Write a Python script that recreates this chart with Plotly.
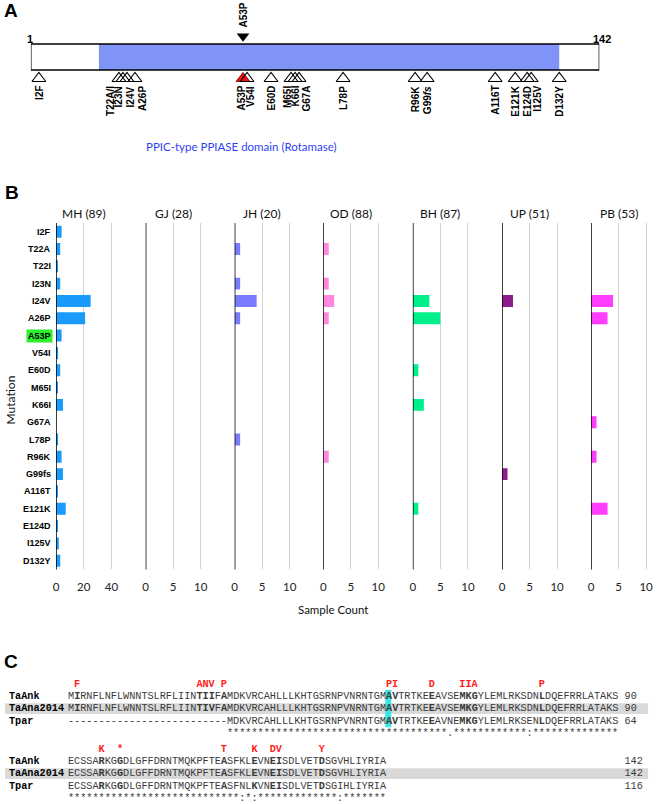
import re
import plotly.graph_objects as go

FIG_W, FIG_H = 660, 804

# ---------------- data ----------------
# Panel A: protein schematic
protein_length = 142
domain_start = 17
domain_end = 132
domain_name = "PPIC-type PPIASE domain (Rotamase)"
site_labels = ["I2F", "T22A/I", "I23N", "I24V", "A26P", "A53P", "V54I", "E60D",
               "M65I", "K66I", "G67A", "L78P", "R96K", "G99<i>fs</i>", "A116T",
               "E121K", "E124D", "I125V", "D132Y"]
site_positions = [2, 22, 23, 24, 26, 53, 54, 60, 65, 66, 67, 78, 96, 99, 116,
                  121, 124, 125, 132]
highlight_mutation = "A53P"
highlight_position = 53

# Panel B: sample counts per mutation and population
mutations = ["I2F", "T22A", "T22I", "I23N", "I24V", "A26P", "A53P", "V54I", "E60D",
             "M65I", "K66I", "G67A", "L78P", "R96K", "G99fs", "A116T", "E121K",
             "E124D", "I125V", "D132Y"]
populations = ["MH", "GJ", "JH", "OD", "BH", "UP", "PB"]
population_sizes = [89, 28, 20, 88, 87, 51, 53]
counts_MH = [4, 3, 1, 3, 25, 21, 4, 1, 3, 1, 5, 0, 1, 4, 5, 1, 7, 1, 2, 3]
counts_GJ = [0, 0, 0, 0, 0, 0, 0, 0, 0, 0, 0, 0, 0, 0, 0, 0, 0, 0, 0, 0]
counts_JH = [0, 1, 0, 1, 4, 1, 0, 0, 0, 0, 0, 0, 1, 0, 0, 0, 0, 0, 0, 0]
counts_OD = [0, 1, 0, 1, 2, 1, 0, 0, 0, 0, 0, 0, 0, 1, 0, 0, 0, 0, 0, 0]
counts_BH = [0, 0, 0, 0, 3, 5, 0, 0, 1, 0, 2, 0, 0, 0, 0, 0, 1, 0, 0, 0]
counts_UP = [0, 0, 0, 0, 2, 0, 0, 0, 0, 0, 0, 0, 0, 0, 1, 0, 0, 0, 0, 0]
counts_PB = [0, 0, 0, 0, 4, 3, 0, 0, 0, 0, 0, 1, 0, 1, 0, 0, 3, 0, 0, 0]
ticks_MH = [0, 20, 40]
ticks_other = [0, 5, 10]

# Panel C: alignment
seq_names = ["TaAnk", "TaAna2014", "Tpar"]
seq_block1 = [
    "MIRNFLNFLWNNTSLRFLIINTIIFAMDKVRCAHLLLKHTGSRNPVNRNTGMAVTRTKEEAVSEMKGYLEMLRKSDNLDQEFRRLATAKS",
    "MIRNFLNFLWNNTSLRFLIINTIVFAMDKVRCAHLLLKHTGSRNPVNRNTGMAVTRTKEEAVSEMKGYLEMLRKSDNLDQEFRRLATAKS",
    "--------------------------MDKVRCAHLLLKHTGSRNPVNRNTGMAVTRTKEEAVNEMKGYLEMLRKSENLDQEFRRLATAKS",
]
seq_block2 = [
    "ECSSARKGGDLGFFDRNTMQKPFTEASFKLEVNEISDLVETDSGVHLIYRIA",
    "ECSSARKGGDLGFFDRNTMQKPFTEASFKLEVNEISDLVETDSGVHLIYRIA",
    "ECSSARKGGDLGFFDRNTMQKPFTEASFNLKVNEISDLVETDSGIHLIYRIA",
]
seq_end1 = [90, 90, 64]
seq_end2 = [142, 142, 116]
cons_block1 = " " * 26 + "*" * 36 + "." + "*" * 12 + ":" + "*" * 14
cons_block2 = "*" * 28 + ":*:" + "*" * 13 + ":" + "*" * 7

# ---------------- styling ----------------
pop_colors = ["#1a9bfc", "#1a9bfc", "#7b7bff", "#ff88dc", "#00ef8a", "#8c1c8c", "#ff3dff"]
pop_x0 = [53.3, 143.3, 232.7, 321.7, 411.7, 501.3, 590.7]   # px of zero line
px_per_unit = [1.39, 5.53, 5.53, 5.53, 5.53, 5.53, 5.53]
panel_w = 66.0

SANS = "Lato"
BOLD_SANS = "Liberation Sans"
MONO = "Liberation Mono"
MONO_SIZE = 10.2
CHAR_W = MONO_SIZE * 0.6


def px(x):
    return x / FIG_W


def py(y):
    return 1 - y / FIG_H


fig = go.Figure()
shapes = []
ann = []


def add_ann(**kw):
    kw.setdefault("showarrow", False)
    kw.setdefault("xanchor", "center")
    kw.setdefault("yanchor", "middle")
    ann.append(kw)


# ---------------- Panel A ----------------
bar_top, bar_bot = 44, 70
shapes.append(dict(type="rect", xref="x8", yref="y8", x0=0, x1=protein_length,
                   y0=bar_top, y1=bar_bot, fillcolor="white", line=dict(width=0), layer="below"))
shapes.append(dict(type="rect", xref="x8", yref="y8", x0=domain_start, x1=domain_end,
                   y0=bar_top, y1=bar_bot, fillcolor="#8094f8", line=dict(width=0), layer="below"))
shapes.append(dict(type="rect", xref="x8", yref="y8", x0=0, x1=protein_length,
                   y0=bar_top, y1=bar_bot, fillcolor="rgba(0,0,0,0)",
                   line=dict(color="black", width=1.3), layer="above"))

tri_size = 12
tri_center = bar_bot + 0.7071 * tri_size
hl_idx = site_labels.index(highlight_mutation)
fig.add_trace(go.Scatter(
    x=[site_positions[hl_idx]], y=[tri_center], mode="markers", xaxis="x8", yaxis="y8",
    marker=dict(symbol="triangle-up", size=tri_size, color="#f01010",
                line=dict(color="#600000", width=0.8)),
    cliponaxis=False, hoverinfo="skip", showlegend=False))
fig.add_trace(go.Scatter(
    x=[p for i, p in enumerate(site_positions) if i != hl_idx],
    y=[tri_center] * (len(site_positions) - 1), mode="markers", xaxis="x8", yaxis="y8",
    marker=dict(symbol="triangle-up-open", size=tri_size, color="black",
                line=dict(color="black", width=1.1)),
    cliponaxis=False, hoverinfo="skip", showlegend=False))
down_size = 11
fig.add_trace(go.Scatter(
    x=[highlight_position], y=[bar_top - 0.7071 * down_size], mode="markers",
    xaxis="x8", yaxis="y8",
    marker=dict(symbol="triangle-down", size=down_size, color="black"),
    cliponaxis=False, hoverinfo="skip", showlegend=False))

label_nudge = {"T22A/I": -9, "I23N": -4, "I24V": 4, "A26P": 7.5, "A53P": -2, "V54I": 3.5,
               "M65I": -4, "G67A": 6.5, "I125V": 5.5}
for lab, pos in zip(site_labels, site_positions):
    add_ann(x=pos, y=84, xref="x8", yref="y8", text=lab, textangle=-90,
            yanchor="top", xshift=label_nudge.get(lab, 0),
            font=dict(family=BOLD_SANS, size=10, color="black", weight="bold"))
add_ann(x=highlight_position, y=30, xref="x8", yref="y8", text=highlight_mutation,
        textangle=-90, yanchor="bottom",
        font=dict(family=BOLD_SANS, size=10, color="black", weight="bold"))
add_ann(x=0, y=39, xref="x8", yref="y8", text="1", xshift=-1,
        font=dict(family=BOLD_SANS, size=11, color="black", weight="bold"))
add_ann(x=protein_length, y=39, xref="x8", yref="y8", text=str(protein_length), xshift=3,
        font=dict(family=BOLD_SANS, size=11, color="black", weight="bold"))
add_ann(x=px(240), y=py(146), xref="paper", yref="paper", text=domain_name,
        font=dict(family=SANS, size=11.5, color="#2f3ff2"))

# ---------------- Panel B ----------------
all_counts = [counts_MH, counts_GJ, counts_JH, counts_OD, counts_BH, counts_UP, counts_PB]
grid_top, grid_bot = 223, 569.4
layout_axes = {}
for k, (name, n, counts) in enumerate(zip(populations, population_sizes, all_counts)):
    xname = "x" if k == 0 else f"x{k + 1}"
    axkey = "xaxis" if k == 0 else f"xaxis{k + 1}"
    fig.add_trace(go.Bar(x=counts, y=mutations, orientation="h", xaxis=xname, yaxis="y",
                         marker=dict(color=pop_colors[k], line=dict(width=0)), width=0.69,
                         hoverinfo="skip", showlegend=False))
    x0 = pop_x0[k]
    layout_axes[axkey] = dict(
        domain=[px(x0), px(x0 + panel_w)], range=[0, panel_w / px_per_unit[k]],
        anchor="y", tickmode="array", tickvals=ticks_MH if k == 0 else ticks_other,
        showgrid=True, gridcolor="#d3d3d3", gridwidth=1.3, zeroline=False, showline=False,
        ticks="outside", ticklen=7, tickcolor="rgba(0,0,0,0)",
        tickfont=dict(family=SANS, size=11.5, color="#222"), fixedrange=True)
    shapes.append(dict(type="line", xref=xname, yref="y domain", x0=0, x1=0, y0=0, y1=1,
                       line=dict(color="black", width=1.5), layer="above"))
    add_ann(x=px(x0 + 5 * 5.53), y=py(213), xref="paper", yref="paper",
            text=f"{name} ({n})", font=dict(family=SANS, size=12, color="#111"))

for m in mutations:
    hl = (m == highlight_mutation)
    add_ann(x=px(50.3), y=m, xref="paper", yref="y", text=m, xanchor="right",
            bgcolor="#2cf02c" if hl else "rgba(0,0,0,0)",
            font=dict(family=BOLD_SANS, size=9, color="black", weight="bold"))

add_ann(x=px(8.5), y=py(400), xref="paper", yref="paper", text="Mutation",
        textangle=-90, font=dict(family=SANS, size=12, color="#111"))
add_ann(x=px(332), y=py(609), xref="paper", yref="paper", text="Sample Count",
        font=dict(family=SANS, size=11.5, color="#111"))

# ---------------- Panel C ----------------
NB = "\u00a0"
seq_x0 = 65.7
line_step = 12.65
block_rows = [696, 761]

# mutated residue per alignment column (first listed wins)
red_map = {}
for m in mutations:
    mm = re.match(r"([A-Z])(\d+)(.+)", m)
    pos, new = int(mm.group(2)), mm.group(3)
    if pos not in red_map:
        red_map[pos] = "*" if new == "fs" else new[0]


def fmt_seq(seq, start_col):
    out = []
    for i, ch in enumerate(seq):
        col = start_col + i
        if col in site_positions and ch != "-":
            out.append(f"<b>{ch}</b>")
        else:
            out.append(ch)
    return "".join(out)


mono_kw = dict(xref="paper", yref="paper", xanchor="left", borderpad=0, borderwidth=0)
blocks = [(seq_block1, seq_end1, cons_block1, 1), (seq_block2, seq_end2, cons_block2, 91)]
for b, (seqs, ends, cons, start_col) in enumerate(blocks):
    y0 = block_rows[b]
    width_cols = len(seq_block1[0])
    red = "".join(red_map.get(start_col + i, NB) for i in range(len(seqs[0])))
    add_ann(x=px(seq_x0), y=py(y0 - 11.5), text=red, **mono_kw,
            font=dict(family=MONO, size=MONO_SIZE, color="#ff1e1e", weight="bold"))
    yb = y0 + line_step
    shapes.append(dict(type="rect", xref="paper", yref="paper", x0=px(2), x1=px(648),
                       y0=py(yb + 5.3), y1=py(yb - 5.3), fillcolor="#d9d9d9",
                       line=dict(width=0), layer="below"))
    for r, (nm, seq, end) in enumerate(zip(seq_names, seqs, ends)):
        yy = y0 + r * line_step
        add_ann(x=px(6), y=py(yy), text=nm, **mono_kw,
                font=dict(family=MONO, size=MONO_SIZE, color="black", weight="bold"))
        txt = fmt_seq(seq, start_col) + NB * (width_cols - len(seq) + 1) + str(end)
        add_ann(x=px(seq_x0), y=py(yy), text=txt, **mono_kw,
                font=dict(family=MONO, size=MONO_SIZE, color="#3a3a3a"))
    add_ann(x=px(seq_x0), y=py(y0 + 3 * line_step), text=cons.replace(" ", NB), **mono_kw,
            font=dict(family=MONO, size=MONO_SIZE, color="#3a3a3a"))

# cyan highlight on the A53 column
hx0 = seq_x0 + (highlight_position - 1) * CHAR_W
shapes.append(dict(type="rect", xref="paper", yref="paper", x0=px(hx0), x1=px(hx0 + CHAR_W),
                   y0=py(block_rows[0] + 2 * line_step + 6), y1=py(block_rows[0] - 6),
                   fillcolor="#3de6e6", line=dict(width=0), layer="below"))

# panel letters
for letter, (lx, ly) in zip(["A", "B", "C"], [(8, 10), (9, 192), (8, 661)]):
    add_ann(x=px(lx), y=py(ly), xref="paper", yref="paper", text=letter,
            font=dict(family=BOLD_SANS, size=19, color="black", weight="bold"))

fig.update_layout(
    width=FIG_W, height=FIG_H, margin=dict(l=0, r=0, t=0, b=0),
    paper_bgcolor="white", plot_bgcolor="rgba(0,0,0,0)", showlegend=False,
    barmode="overlay", hovermode=False,
    yaxis=dict(domain=[py(grid_bot), py(grid_top)], type="category",
               categoryorder="array", categoryarray=mutations, range=[19.5, -0.5],
               showticklabels=False, showgrid=False, zeroline=False, showline=False,
               anchor="x", fixedrange=True),
    xaxis8=dict(domain=[px(28), px(599)], range=[0, protein_length], visible=False,
                anchor="y8", fixedrange=True),
    yaxis8=dict(domain=[0, 1], range=[FIG_H, 0], visible=False, anchor="x8", fixedrange=True),
    shapes=shapes, annotations=ann,
    **layout_axes,
)

fig.write_html("out.html", config={"displayModeBar": False},
               post_script="document.body.style.margin='0px';"
                           "document.body.style.overflow='hidden';")
